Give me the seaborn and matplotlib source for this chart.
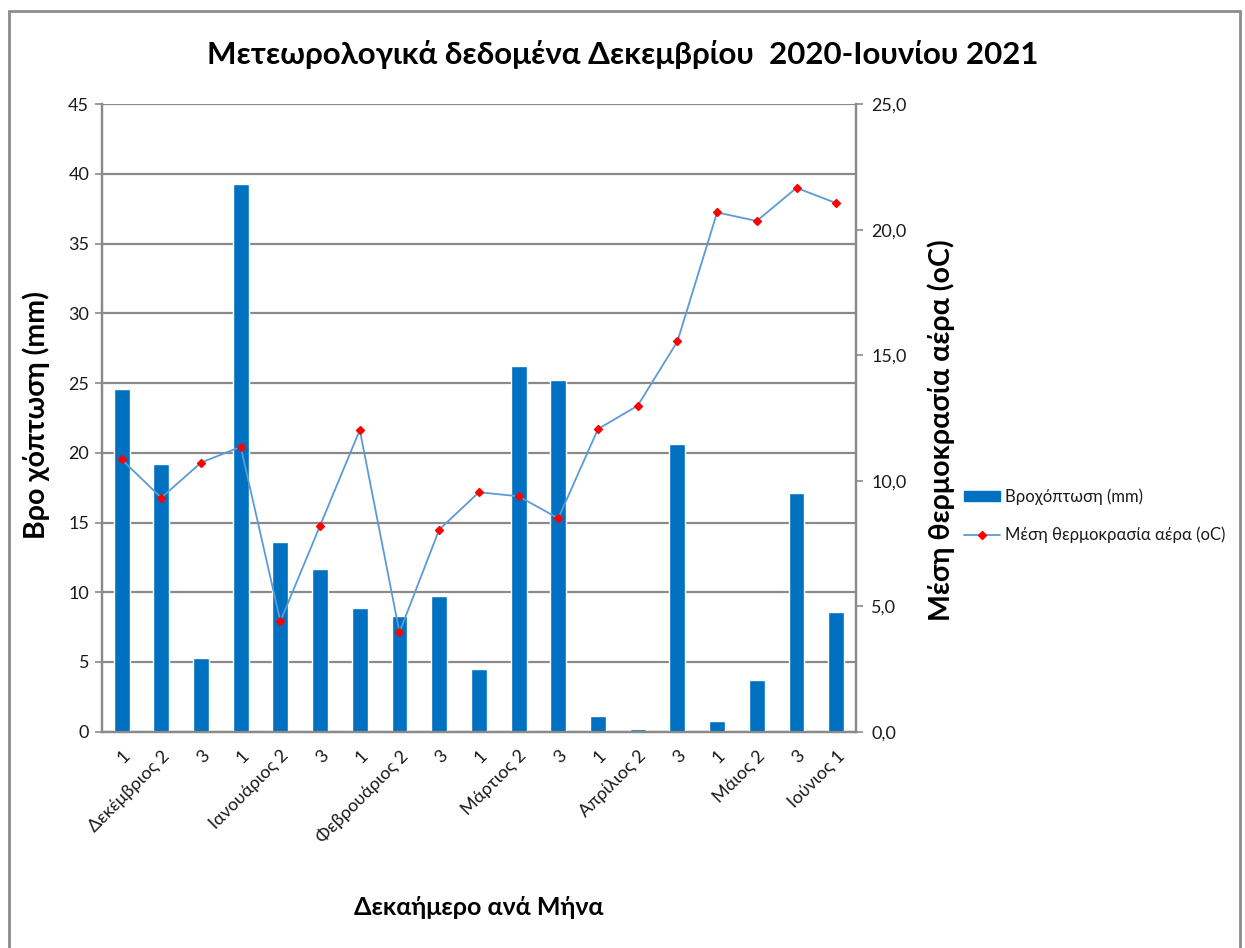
import matplotlib
matplotlib.use("Agg")
import matplotlib.pyplot as plt
from matplotlib.patches import Rectangle, Patch
from matplotlib.lines import Line2D
from matplotlib.ticker import FuncFormatter
import seaborn as sns
import pandas as pd

# Ten-day periods, December 2020 to June 2021
periods = ["Δεκ-1", "Δεκ-2", "Δεκ-3", "Ιαν-1", "Ιαν-2", "Ιαν-3",
           "Φεβ-1", "Φεβ-2", "Φεβ-3", "Μαρ-1", "Μαρ-2", "Μαρ-3",
           "Απρ-1", "Απρ-2", "Απρ-3", "Μαι-1", "Μαι-2", "Μαι-3", "Ιουν-1"]
tick_labels = ["1", "Δεκέμβριος 2", "3", "1", "Ιανουάριος 2", "3",
               "1", "Φεβρουάριος 2", "3", "1", "Μάρτιος 2", "3",
               "1", "Απρίλιος 2", "3", "1", "Μάιος 2", "3", "Ιούνιος 1"]
rainfall_mm = [24.6, 19.2, 5.3, 39.3, 13.6, 11.7, 8.9, 8.3, 9.7, 4.5,
               26.2, 25.2, 1.1, 0.2, 20.6, 0.8, 3.7, 17.1, 8.6]
mean_temp_c = [10.85, 9.32, 10.72, 11.35, 4.40, 8.21, 12.02, 3.96, 8.05, 9.54,
               9.38, 8.50, 12.06, 12.99, 15.55, 20.69, 20.35, 21.67, 21.06]

rain_label = "Βροχόπτωση (mm)"
temp_label = "Μέση θερμοκρασία αέρα (oC)"

df = pd.DataFrame({"period": periods, "rain": rainfall_mm, "temp": mean_temp_c})

sns.set_style("white")
plt.rcParams["font.family"] = ["Lato", "Noto Sans", "DejaVu Sans"]

BAR_BLUE = "#0070C0"
LINE_BLUE = "#5B9BD5"
GRID_GRAY = "#8A8A8A"
TEXT = "#1a1a1a"

fig = plt.figure(figsize=(12.45, 9.48), dpi=100)
ax = fig.add_axes([0.0817, 0.2282, 0.6059, 0.6618])

sns.barplot(data=df, x="period", y="rain", color=BAR_BLUE, saturation=1,
            width=0.4, ax=ax, zorder=3)
ax.set_ylim(0, 45)
ax.set_yticks(range(0, 46, 5))
ax.grid(axis="y", color=GRID_GRAY, linewidth=1.6, zorder=0)
ax.set_axisbelow(True)

ax2 = ax.twinx()
sns.pointplot(data=df, x="period", y="temp", ax=ax2, color=LINE_BLUE,
              markers="D", linestyles="-", linewidth=1.3, markersize=4.5,
              markerfacecolor="red", markeredgecolor="red", errorbar=None)
ax2.set_ylim(0, 25)
ax2.set_yticks(range(0, 26, 5))
ax2.yaxis.set_major_formatter(FuncFormatter(lambda v, _: f"{v:.1f}".replace(".", ",")))

for a in (ax, ax2):
    a.spines["top"].set_visible(False)
    for side in ("left", "right", "bottom"):
        a.spines[side].set_color(GRID_GRAY)
        a.spines[side].set_linewidth(1.6)

ax.tick_params(axis="y", which="major", left=True, length=5, width=1.2,
               color=GRID_GRAY, labelsize=13, labelcolor=TEXT, pad=4)
ax2.tick_params(axis="y", which="major", right=True, length=5, width=1.2,
                color=GRID_GRAY, labelsize=13, labelcolor=TEXT, pad=6)
ax.tick_params(axis="x", bottom=False, labelsize=13, labelcolor=TEXT, pad=8)

ax.set_xticks(range(len(tick_labels)))
ax.set_xticklabels(tick_labels, rotation=45, ha="right", rotation_mode="anchor")
ax.set_xlim(-0.5, len(periods) - 0.5)

ax.set_ylabel("Βρο χόπτωση (mm)", fontsize=20.5, fontweight="bold", color="black")
ax.yaxis.set_label_coords(-0.069, 0.505)
ax2.set_ylabel(temp_label, fontsize=20.5, fontweight="bold", color="black")
ax2.yaxis.set_label_coords(1.0945, 0.48)
ax.set_xlabel("Δεκαήμερο ανά Μήνα", fontsize=18, fontweight="bold", color="black")
ax.xaxis.set_label_coords(0.5, -0.262)

fig.text(0.5, 0.942, "Μετεωρολογικά δεδομένα Δεκεμβρίου  2020-Ιουνίου 2021",
         ha="center", va="center", fontsize=22.5, fontweight="bold", color="black")

handles = [Patch(facecolor=BAR_BLUE, edgecolor=BAR_BLUE),
           Line2D([], [], color=LINE_BLUE, lw=1.3, marker="D", markersize=4.5,
                  markerfacecolor="red", markeredgecolor="red")]
fig.legend(handles, [rain_label, temp_label], loc="center left",
           bbox_to_anchor=(0.762, 0.456), frameon=False, fontsize=12,
           handlelength=2.2, handleheight=0.6, handletextpad=0.3,
           labelspacing=1.3, labelcolor=TEXT)

# chart area border
fig.patches.append(Rectangle((9 / 1245, -0.02), 1231 / 1245, 1.02 - 11 / 948,
                             transform=fig.transFigure, fill=False,
                             edgecolor="#8c8c8c", linewidth=2))

fig.savefig("out.png", dpi=100, facecolor="white")
